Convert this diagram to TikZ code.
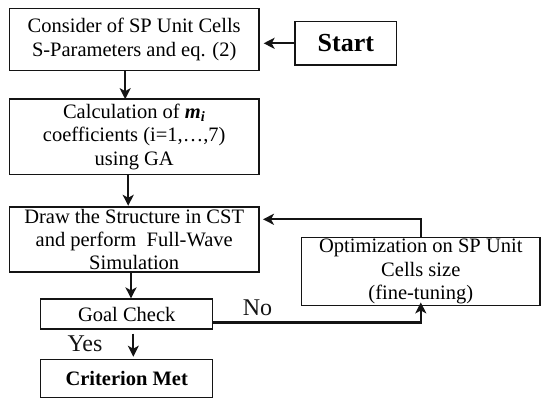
\documentclass[tikz,border=0pt]{standalone}
\usepackage{fontspec}
\setmainfont{Liberation Serif}
\usepackage{xcolor}
\usetikzlibrary{arrows.meta,positioning,calc}
\definecolor{ink}{HTML}{141414}
\definecolor{paper}{HTML}{FFFFFF}
\tikzset{
  block/.style={draw=ink, fill=paper, line width=1.2pt, align=center,
                inner sep=2pt, font=\fontsize{20.5}{23.3}\selectfont},
  arrow/.style={-{Stealth[length=11pt,width=11pt,inset=3pt]}, line width=2.2pt, draw=ink},
  tag/.style={inner sep=0pt, font=\fontsize{24}{26}\selectfont, text=ink}
}

\begin{document}
\begin{tikzpicture}[x=1pt,y=-1pt]
    \useasboundingbox[fill=paper] (0,0) rectangle (550,408);

    % main column
    \node[block,minimum width=249.7pt,minimum height=62.4pt] (consider) at (134.2,39.5) {Consider of SP Unit Cells\\S-Parameters and eq. (2)};
    \node[block,minimum width=101.7pt,minimum height=43.3pt,font=\fontsize{26}{30}\selectfont\bfseries] (start) at (345.8,43.3) {Start};
    \node[block,minimum width=249.7pt,minimum height=75.3pt] (calc) at (134.2,136.7) {Calculation of \textbf{\textit{m}}\textsubscript{\textbf{\textit{i}}}\\coefficients (i=1,\dots,7)\\using GA};
    \node[block,minimum width=249.7pt,minimum height=64.4pt] (cst) at (134.2,239.5) {Draw the Structure in CST\\and perform\ \ Full-Wave\\Simulation};
    \node[block,minimum width=172pt,minimum height=30pt] (goal) at (126.7,314) {Goal Check};
    \node[block,minimum width=172pt,minimum height=38pt,font=\fontsize{20.5}{23.3}\selectfont\bfseries] (crit) at (126.7,378.3) {Criterion Met};
    \draw[arrow] (start) -- ([xshift=4pt]start.west -| consider.east);
    \draw[arrow] ([xshift=-9pt]consider.south) -- ([xshift=-9pt,yshift=-0.7pt]calc.north);
    \draw[arrow] ([xshift=-6pt]calc.south) -- ([xshift=-6pt,yshift=0.6pt]cst.north);
    \draw[arrow] ([xshift=4.3pt]goal.north |- cst.south) -- ([xshift=4.3pt]goal.north);
    \draw[arrow] ([xshift=6.6pt,yshift=-4pt]goal.south) -- ([xshift=6.6pt,yshift=2pt]crit.north);
    \node[tag] (yes) at (85,343.3) {Yes};

    % feedback loop
    \node[block,minimum width=238.3pt,minimum height=68.4pt] (opt) at (420.8,271.5) {Optimization on SP Unit\\Cells size\\(fine-tuning)};
    \draw[arrow] (opt.north) |- ([xshift=3.3pt,yshift=20.2pt]cst.east);
    \draw[arrow] ([yshift=-8.5pt]goal.east) -| ([yshift=4pt]opt.south);
    \node[tag] (no) at (257.5,307.3) {No};
  \end{tikzpicture}
\end{document}
